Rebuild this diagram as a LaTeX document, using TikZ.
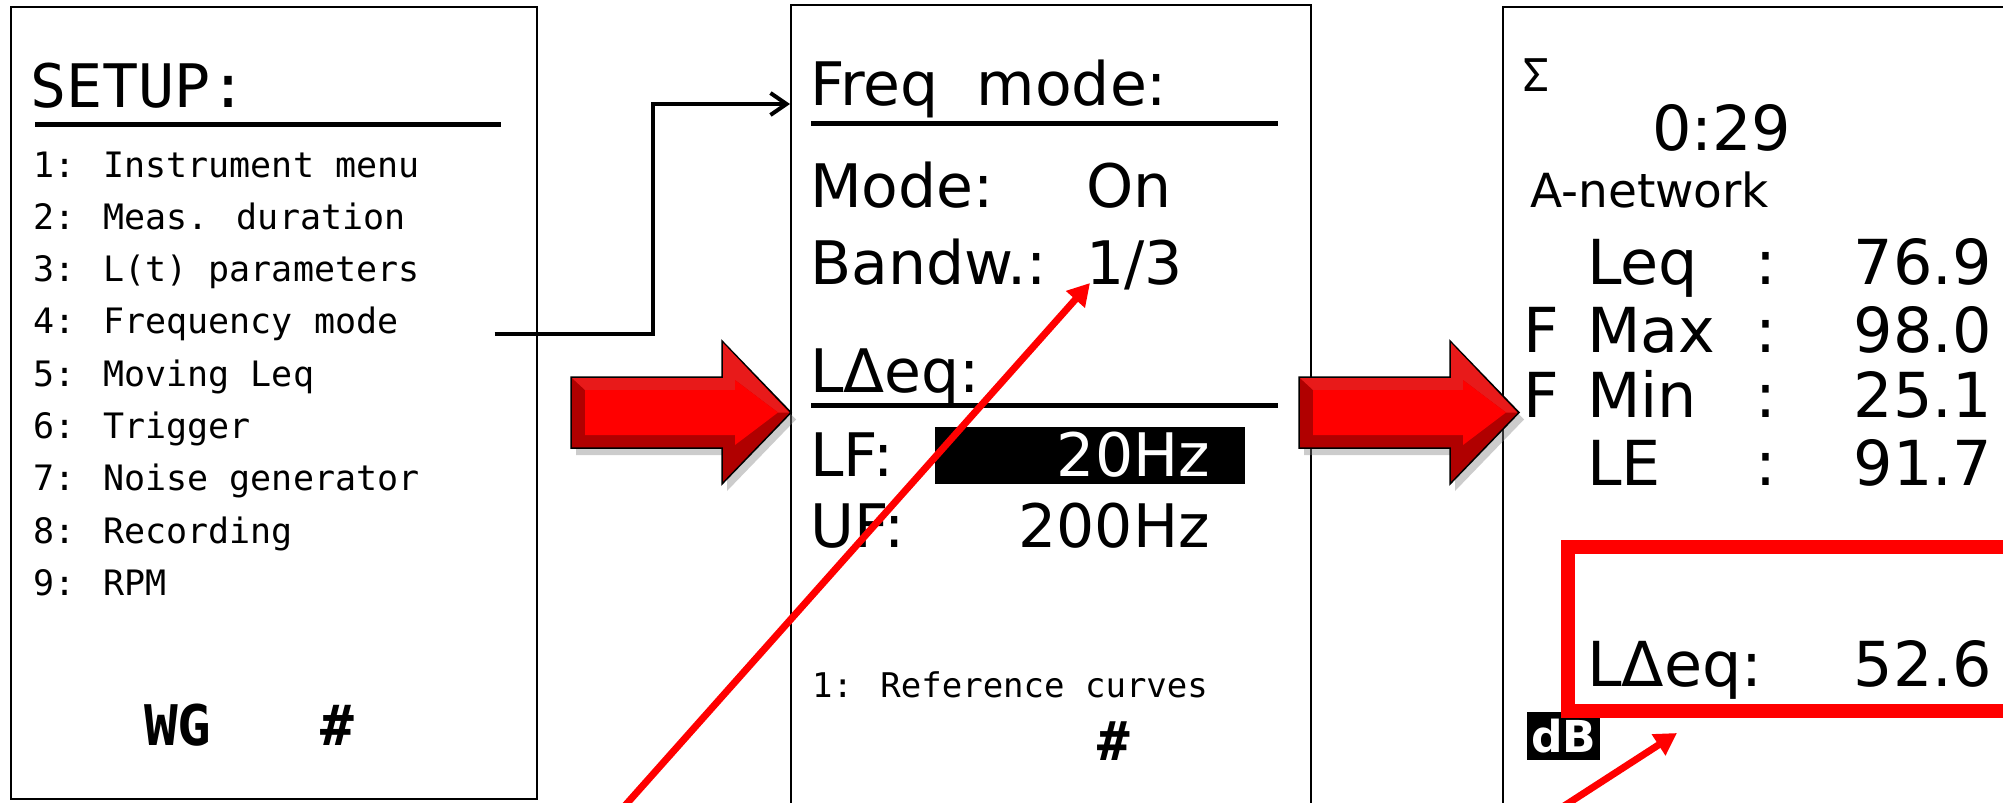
\documentclass[tikz,border=0pt]{standalone}
\usepackage{fontspec}
\setmainfont{DejaVu Sans}
\newfontfamily\lcdmono{DejaVu Sans Mono}
\usetikzlibrary{arrows.meta,shadows}
\definecolor{MarkRed}{HTML}{FF0000}
\definecolor{BevelRed}{HTML}{B00000}
\definecolor{BevelLight}{HTML}{E81A1A}

\tikzset{
  menutext/.style={anchor=base west, inner sep=0pt, font=\lcdmono\fontsize{35}{35}\selectfont},
  keytext/.style={anchor=base west, inner sep=0pt, font=\lcdmono\bfseries\fontsize{56}{56}\selectfont},
  bigtext/.style={anchor=base west, inner sep=0pt, font=\fontsize{60}{60}\selectfont},
  readtext/.style={anchor=base west, inner sep=0pt, font=\fontsize{62}{62}\selectfont},
  valtext/.style={anchor=base east, inner sep=0pt, font=\fontsize{62}{62}\selectfont},
  screen/.style={draw=black, line width=2pt},
  headrule/.style={line width=5pt},
  flowline/.style={line width=4pt, -{Straight Barb[length=16pt,width=22pt]}},
  pointer/.style={MarkRed, line width=7pt, -{Triangle[length=22pt,width=24pt]}},
  hilitebox/.style={draw=MarkRed, line width=14pt, outer sep=0pt, inner sep=0pt, anchor=north west},
}

\begin{document}
\begin{tikzpicture}[x=1pt, y=-1pt]
      \useasboundingbox (0,0) rectangle (2003,803);
      \clip (0,0) rectangle (2003,803);
      % Screens
      \draw[screen] (11,7) rectangle (537,799);
      \draw[screen] (791,5) rectangle (1311,830);
      \draw[screen] (1503,7) rectangle (2100,830);
      % Setup menu
      \node[anchor=base west, inner sep=0pt, font=\lcdmono\fontsize{60}{60}\selectfont] (setup) at (30,107) {SETUP:};
      \draw[headrule] (35,124) -- (501,124);
      \node[menutext] (item1) at (33,177) {1: Instrument menu};
      \node[menutext] (item2) at (33,229.3) {2: Meas. duration};
      \node[menutext] (item3) at (33,281.6) {3: L(t) parameters};
      \node[menutext] (item4) at (33,333.9) {4: Frequency mode};
      \node[menutext] (item5) at (33,386.2) {5: Moving Leq};
      \node[menutext] (item6) at (33,438.5) {6: Trigger};
      \node[menutext] (item7) at (33,490.8) {7: Noise generator};
      \node[menutext] (item8) at (33,543.1) {8: Recording};
      \node[menutext] (item9) at (33,595.4) {9: RPM};
      \node[keytext] (wgkey) at (144,745) {WG};
      \node[keytext] (hashkey) at (320,745) {\#};
      % Frequency mode screen
      \node[bigtext] (freqhead) at (810,105) {Freq\ \ mode:};
      \draw[headrule] (811,123) -- (1278,123);
      \node[bigtext] (modelbl) at (810,207) {Mode:};
      \node[bigtext] (modeval) at (1086,207) {On};
      \node[bigtext] (bwlbl) at (810,284) {Bandw.:};
      \node[bigtext] (bwval) at (1086,284) {1/3};
      \node[bigtext] (dqhead) at (810,392) {LΔeq:};
      \draw[headrule] (811,405) -- (1278,405);
      \fill (935,427) rectangle (1245,484);
      \node[bigtext] (lflbl) at (810,476) {LF:};
      \node[valtext, font=\fontsize{60}{60}\selectfont, text=white] (lfval) at (1210,476) {20Hz};
      \node[bigtext] (uflbl) at (810,547) {UF:};
      \node[valtext, font=\fontsize{60}{60}\selectfont] (ufval) at (1210,547) {200Hz};
      \node[menutext, font=\lcdmono\fontsize{34}{34}\selectfont] (refcurves) at (812,697) {1: Reference curves};
      \node[keytext, font=\lcdmono\bfseries\fontsize{54}{54}\selectfont] (hashkey2) at (1097,760) {\#};
      % Measurement screen
      \node[menutext, font=\lcdmono\fontsize{45}{45}\selectfont] (sigma) at (1522,91) {Σ};
      \node[readtext] (clock) at (1652,150) {0:29};
      \node[anchor=base west, inner sep=0pt, font=\fontsize{47}{47}\selectfont] (network) at (1530,207) {A-network};
      \node[readtext] (leqlbl) at (1587,284) {Leq};
      \node[readtext] (fmax) at (1523,352) {F};
      \node[readtext] (maxlbl) at (1587,352) {Max};
      \node[readtext] (fmin) at (1523,417) {F};
      \node[readtext] (minlbl) at (1587,417) {Min};
      \node[readtext] (lelbl) at (1587,485) {LE};
      \node[readtext] (col1) at (1755,284) {:};
      \node[readtext] (col2) at (1755,352) {:};
      \node[readtext] (col3) at (1755,417) {:};
      \node[readtext] (col4) at (1755,485) {:};
      \node[valtext] (leqval) at (1992,284) {76.9};
      \node[valtext] (maxval) at (1992,352) {98.0};
      \node[valtext] (minval) at (1992,417) {25.1};
      \node[valtext] (leval) at (1992,485) {91.7};
      \node[readtext] (dqlbl) at (1587,686) {LΔeq:};
      \node[valtext] (dqval) at (1992,686) {52.6};
      \node[fill=black, text=white, inner sep=0pt, minimum width=73pt, minimum height=48pt,
        font=\bfseries\fontsize{44}{44}\selectfont] (dbunit) at (1563.5,736) {dB};
      \node[hilitebox, minimum width=540pt, minimum height=164pt] (dqbox) at (1568,547) {};
      % Block arrows
      \foreach \ax in {571,1299} {
        \filldraw[BevelRed, draw=black, line width=1.5pt,
          drop shadow={shadow xshift=5pt, shadow yshift=-7pt, opacity=0.4}]
          (\ax,377) -- ({\ax+151},377) -- ({\ax+151},341) -- ({\ax+220},412.5)
          -- ({\ax+151},484) -- ({\ax+151},448) -- (\ax,448) -- cycle;
        \fill[BevelLight] ({\ax+1},378) -- ({\ax+152},378) -- ({\ax+152},343) -- ({\ax+218},412.5)
          -- ({\ax+207},412.5) -- ({\ax+164},380) -- ({\ax+164},390) -- ({\ax+14},390) -- cycle;
        \fill[MarkRed] ({\ax+14},390) -- ({\ax+164},390) -- ({\ax+164},380) -- ({\ax+207},412.5)
          -- ({\ax+164},445) -- ({\ax+164},435) -- ({\ax+14},435) -- cycle;
      }
      % Connectors
      \draw[flowline] ([xshift=96pt]item4.base east) -- ++(158,0) |- ([xshift=-20pt, yshift=1pt]freqhead.base west);
      \coordinate (tail1) at (614,818);
      \coordinate (tail2) at (1547,817);
      \draw[pointer] (tail1) -- ([xshift=4pt, yshift=1pt]bwval.base west);
      \draw[pointer] (tail2) -- ([xshift=109pt, yshift=-22pt]dqbox.south west);
    \end{tikzpicture}
\end{document}
